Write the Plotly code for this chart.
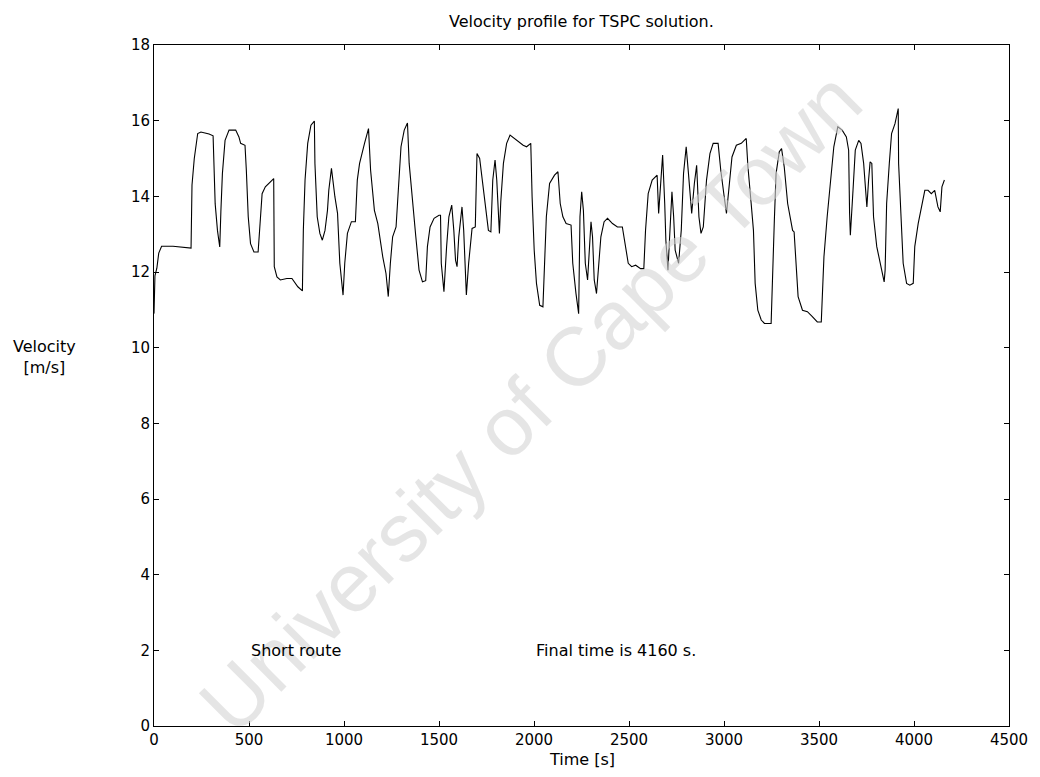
import plotly.graph_objects as go

# ---- data ----
time_s = [0, 5, 15, 25, 40, 100, 195, 200, 212, 230, 247, 290, 311, 315, 322, 334, 346, 352, 360, 374,
          395, 430, 447, 456, 479, 486, 496, 508, 526, 548, 555, 569, 586, 613, 630, 633, 647, 665, 699,
          726, 757, 781, 786, 795, 809, 826, 844, 847, 859, 873, 886, 900, 913, 920, 934, 952, 966, 978,
          995, 1004, 1018, 1039, 1060, 1070, 1082, 1108, 1129, 1140, 1160, 1178, 1204, 1221, 1233, 1244,
          1256, 1274, 1286, 1300, 1317, 1334, 1343, 1360, 1378, 1395, 1413, 1430, 1439, 1453, 1474, 1500,
          1508, 1512, 1526, 1540, 1552, 1567, 1578, 1587, 1595, 1604, 1621, 1630, 1644, 1656, 1674, 1691,
          1700, 1714, 1726, 1743, 1760, 1773, 1783, 1795, 1804, 1818, 1825, 1839, 1856, 1874, 1908, 1943,
          1961, 1983, 1990, 2001, 2013, 2030, 2047, 2056, 2065, 2082, 2108, 2126, 2138, 2152, 2169, 2195,
          2204, 2221, 2235, 2242, 2251, 2260, 2270, 2282, 2291, 2300, 2308, 2317, 2329, 2340, 2352, 2369,
          2387, 2413, 2439, 2465, 2479, 2496, 2514, 2535, 2561, 2578, 2587, 2601, 2622, 2648, 2656, 2665,
          2677, 2688, 2694, 2705, 2717, 2726, 2735, 2743, 2761, 2775, 2787, 2801, 2813, 2830, 2844, 2856,
          2868, 2879, 2891, 2908, 2926, 2943, 2969, 2983, 3001, 3013, 3025, 3042, 3065, 3091, 3117, 3126,
          3143, 3155, 3164, 3178, 3196, 3213, 3248, 3256, 3265, 3274, 3291, 3303, 3317, 3335, 3361, 3369,
          3378, 3390, 3413, 3439, 3465, 3491, 3512, 3517, 3526, 3543, 3561, 3578, 3599, 3622, 3644, 3656,
          3661, 3665, 3679, 3691, 3709, 3721, 3735, 3743, 3752, 3761, 3769, 3778, 3787, 3804, 3822, 3843,
          3848, 3856, 3870, 3882, 3900, 3917, 3919, 3926, 3943, 3961, 3978, 3996, 4004, 4022, 4039, 4057,
          4074, 4091, 4109, 4126, 4138, 4147, 4160]
velocity = [10.9, 11.9, 12.1, 12.5, 12.68, 12.68, 12.63, 14.3, 15.0, 15.66, 15.7, 15.65, 15.6, 14.87, 13.8,
            13.1, 12.66, 13.6, 14.6, 15.48, 15.75, 15.75, 15.57, 15.4, 15.35, 14.69, 13.46, 12.75, 12.53,
            12.53, 13.1, 14.07, 14.25, 14.38, 14.47, 12.14, 11.87, 11.79, 11.83, 11.83, 11.61, 11.5, 13.1,
            14.43, 15.4, 15.88, 15.99, 14.87, 13.46, 13.02, 12.84, 13.1, 13.63, 14.16, 14.74, 13.99, 13.55,
            12.23, 11.39, 12.23, 13.02, 13.33, 13.33, 14.43, 14.87, 15.4, 15.79, 14.69, 13.63, 13.28, 12.4,
            11.96, 11.35, 12.23, 12.93, 13.19, 14.16, 15.31, 15.75, 15.94, 14.87, 13.81, 12.93, 12.05,
            11.74, 11.77, 12.67, 13.19, 13.42, 13.5, 13.5, 12.23, 11.48, 12.67, 13.46, 13.77, 13.1, 12.31,
            12.14, 12.93, 13.72, 13.1, 11.39, 12.23, 13.15, 13.19, 15.13, 15.0, 14.52, 13.81, 13.1, 13.06,
            14.43, 14.96, 14.43, 13.02, 13.85, 14.87, 15.4, 15.62, 15.48, 15.35, 15.31, 15.4, 13.99, 12.58,
            11.7, 11.12, 11.08, 12.23, 13.46, 14.34, 14.56, 14.65, 13.81, 13.46, 13.28, 13.24, 12.23, 11.43,
            10.9, 13.46, 14.12, 13.63, 12.23, 11.79, 12.67, 13.33, 12.93, 11.79, 11.43, 12.23, 12.93, 13.33,
            13.42, 13.28, 13.19, 13.19, 12.75, 12.23, 12.14, 12.18, 12.09, 12.09, 13.1, 14.07, 14.43, 14.56,
            13.55, 14.25, 15.09, 13.81, 12.84, 12.05, 13.1, 14.12, 13.46, 12.58, 12.23, 13.1, 14.6, 15.31,
            14.6, 13.55, 14.34, 14.82, 13.46, 13.02, 13.19, 14.43, 15.13, 15.4, 15.4, 14.69, 13.99, 13.55,
            14.16, 15.04, 15.35, 15.4, 15.53, 14.78, 13.81, 13.1, 11.7, 10.99, 10.73, 10.64, 10.64, 12.23,
            13.37, 14.6, 15.18, 15.26, 14.78, 13.81, 13.1, 13.06, 12.23, 11.35, 10.99, 10.95, 10.82, 10.68,
            10.68, 11.35, 12.4, 13.46, 14.43, 15.31, 15.84, 15.75, 15.57, 15.22, 13.55, 12.97, 14.16, 15.22,
            15.48, 15.4, 14.87, 14.25, 13.72, 14.43, 14.91, 14.87, 13.46, 12.67, 12.23, 11.74, 12.05, 13.81,
            14.87, 15.66, 15.92, 16.32, 14.87, 13.99, 12.23, 11.7, 11.65, 11.7, 12.67, 13.28, 13.72, 14.16,
            14.16, 14.07, 14.16, 13.72, 13.59, 14.25, 14.43]

x_ticks = [0, 500, 1000, 1500, 2000, 2500, 3000, 3500, 4000, 4500]
y_ticks = [0, 2, 4, 6, 8, 10, 12, 14, 16, 18]

FONT = "DejaVu Sans, Arial, sans-serif"
WM_FONT = "Liberation Sans, Arial, sans-serif"

fig = go.Figure()
fig.add_trace(go.Scatter(x=time_s, y=velocity, mode="lines",
                         line=dict(color="black", width=1.1), showlegend=False))

axis_common = dict(showline=True, linecolor="black", linewidth=1, mirror="allticks",
                   ticks="inside", ticklen=5, tickcolor="black", showgrid=False,
                   zeroline=False, tickfont=dict(family=FONT, size=15, color="black"))

fig.update_xaxes(range=[0, 4500], tickvals=x_ticks, ticktext=[str(v) for v in x_ticks], **axis_common)
fig.update_yaxes(range=[0, 18], tickvals=y_ticks, ticktext=[str(v) for v in y_ticks], **axis_common)

fig.update_layout(
    width=1040, height=777,
    margin=dict(l=154, r=23, t=45, b=51, pad=0),
    paper_bgcolor="white", plot_bgcolor="white",
    font=dict(family=FONT, size=15, color="black"),
    annotations=[
        dict(text="University of Cape Town", xref="paper", yref="paper", x=0.44, y=0.475,
             showarrow=False, textangle=-45, font=dict(family=WM_FONT, size=83, color="rgba(212,212,212,0.6)")),
        dict(text="Velocity profile for TSPC solution.", xref="paper", yref="paper", x=0.5, y=1,
             yshift=24, showarrow=False, xanchor="center", yanchor="middle",
             font=dict(family=FONT, size=16)),
        dict(text="Time [s]", xref="paper", yref="paper", x=0.5, y=0, yshift=-33,
             showarrow=False, xanchor="center", yanchor="middle", font=dict(family=FONT, size=16)),
        dict(text="Velocity<br>[m/s]", xref="paper", yref="paper", x=0, xshift=-110, y=0.5, yshift=29,
             showarrow=False, xanchor="center", yanchor="middle", font=dict(family=FONT, size=16)),
        dict(text="Short route", x=500, y=2, xref="x", yref="y", showarrow=False,
             xanchor="left", yanchor="middle", font=dict(family=FONT, size=16)),
        dict(text="Final time is 4160 s.", x=2000, y=2, xref="x", yref="y", showarrow=False,
             xanchor="left", yanchor="middle", font=dict(family=FONT, size=16)),
    ],
)

fig.write_html("out.html")
